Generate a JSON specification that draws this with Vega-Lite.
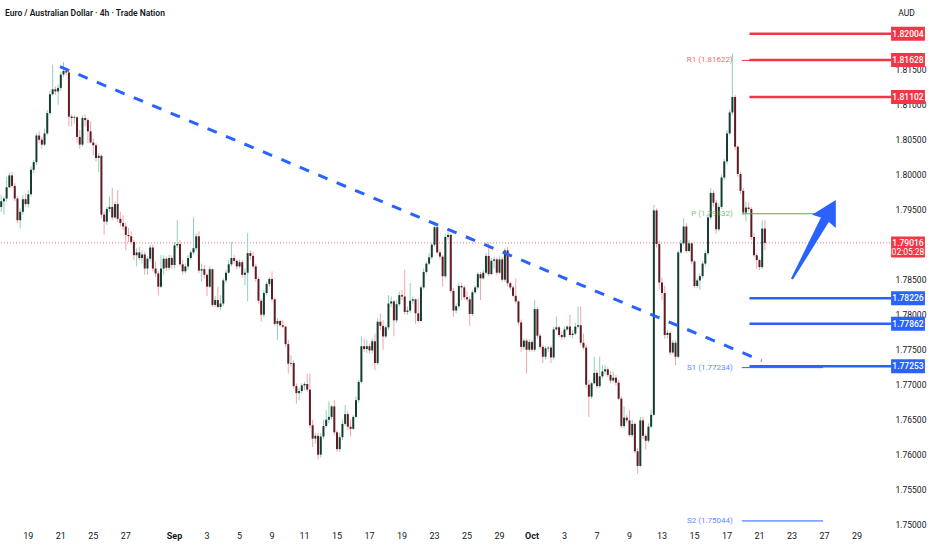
{
  "$schema": "https://vega.github.io/schema/vega-lite/v6.json",
  "width": 890,
  "height": 528,
  "autosize": {"type": "none"},
  "padding": {"left": 0, "top": 0, "right": 42, "bottom": 22},
  "background": "#ffffff",
  "config": {
    "view": {"stroke": null},
    "font": "Roboto",
    "axis": {"labelBound": false},
    "scale": {"continuousPadding": 0}
  },
  "title": {
    "text": "Euro / Australian Dollar · 4h · Trade Nation",
    "anchor": "start",
    "frame": "group",
    "offset": -17,
    "dx": 5,
    "fontSize": 8.5,
    "fontWeight": 600,
    "color": "#131722"
  },
  "datasets": {
    "candles": [
      {"i":-10,"o":1.7953,"h":1.7970,"l":1.7946,"c":1.7961},
      {"i":-9,"o":1.7961,"h":1.7968,"l":1.7942,"c":1.7965},
      {"i":-8,"o":1.7965,"h":1.7996,"l":1.7961,"c":1.7981},
      {"i":-7,"o":1.7981,"h":1.8002,"l":1.7980,"c":1.7998},
      {"i":-6,"o":1.7998,"h":1.8003,"l":1.7980,"c":1.7983},
      {"i":-5,"o":1.7983,"h":1.7987,"l":1.7961,"c":1.7965},
      {"i":-4,"o":1.7965,"h":1.7968,"l":1.7930,"c":1.7934},
      {"i":-3,"o":1.7934,"h":1.7951,"l":1.7922,"c":1.7946},
      {"i":-2,"o":1.7946,"h":1.7970,"l":1.7942,"c":1.7964},
      {"i":-1,"o":1.7964,"h":1.7972,"l":1.7953,"c":1.7957},
      {"i":0,"o":1.7957,"h":1.7977,"l":1.7952,"c":1.7971},
      {"i":1,"o":1.7971,"h":1.8011,"l":1.7968,"c":1.8006},
      {"i":2,"o":1.8006,"h":1.8020,"l":1.8001,"c":1.8017},
      {"i":3,"o":1.8017,"h":1.8058,"l":1.8013,"c":1.8055},
      {"i":4,"o":1.8055,"h":1.8061,"l":1.8045,"c":1.8049},
      {"i":5,"o":1.8049,"h":1.8053,"l":1.8036,"c":1.8042},
      {"i":6,"o":1.8042,"h":1.8065,"l":1.8040,"c":1.8058},
      {"i":7,"o":1.8058,"h":1.8091,"l":1.8056,"c":1.8087},
      {"i":8,"o":1.8087,"h":1.8119,"l":1.8084,"c":1.8114},
      {"i":9,"o":1.8114,"h":1.8156,"l":1.8112,"c":1.8121},
      {"i":10,"o":1.8121,"h":1.8125,"l":1.8113,"c":1.8118},
      {"i":11,"o":1.8118,"h":1.8128,"l":1.8099,"c":1.8123},
      {"i":12,"o":1.8123,"h":1.8146,"l":1.8119,"c":1.8142},
      {"i":13,"o":1.8142,"h":1.8160,"l":1.8139,"c":1.8147},
      {"i":14,"o":1.8147,"h":1.8152,"l":1.8141,"c":1.8145},
      {"i":15,"o":1.8145,"h":1.8146,"l":1.8068,"c":1.8082},
      {"i":16,"o":1.8082,"h":1.8085,"l":1.8068,"c":1.8080},
      {"i":17,"o":1.8080,"h":1.8084,"l":1.8072,"c":1.8081},
      {"i":18,"o":1.8081,"h":1.8083,"l":1.8045,"c":1.8053},
      {"i":19,"o":1.8053,"h":1.8063,"l":1.8036,"c":1.8042},
      {"i":20,"o":1.8042,"h":1.8084,"l":1.8039,"c":1.8080},
      {"i":21,"o":1.8080,"h":1.8085,"l":1.8068,"c":1.8077},
      {"i":22,"o":1.8077,"h":1.8080,"l":1.8044,"c":1.8061},
      {"i":23,"o":1.8061,"h":1.8075,"l":1.8044,"c":1.8045},
      {"i":24,"o":1.8045,"h":1.8051,"l":1.8027,"c":1.8041},
      {"i":25,"o":1.8041,"h":1.8044,"l":1.8018,"c":1.8023},
      {"i":26,"o":1.8023,"h":1.8030,"l":1.8003,"c":1.8026},
      {"i":27,"o":1.8026,"h":1.8028,"l":1.7937,"c":1.7942},
      {"i":28,"o":1.7942,"h":1.7946,"l":1.7913,"c":1.7932},
      {"i":29,"o":1.7932,"h":1.7953,"l":1.7927,"c":1.7950},
      {"i":30,"o":1.7950,"h":1.7968,"l":1.7946,"c":1.7953},
      {"i":31,"o":1.7953,"h":1.7980,"l":1.7934,"c":1.7938},
      {"i":32,"o":1.7938,"h":1.7961,"l":1.7936,"c":1.7957},
      {"i":33,"o":1.7957,"h":1.7977,"l":1.7932,"c":1.7936},
      {"i":34,"o":1.7936,"h":1.7946,"l":1.7925,"c":1.7930},
      {"i":35,"o":1.7930,"h":1.7941,"l":1.7920,"c":1.7925},
      {"i":36,"o":1.7925,"h":1.7930,"l":1.7891,"c":1.7913},
      {"i":37,"o":1.7913,"h":1.7923,"l":1.7903,"c":1.7911},
      {"i":38,"o":1.7911,"h":1.7918,"l":1.7899,"c":1.7903},
      {"i":39,"o":1.7903,"h":1.7906,"l":1.7877,"c":1.7884},
      {"i":40,"o":1.7884,"h":1.7894,"l":1.7868,"c":1.7888},
      {"i":41,"o":1.7888,"h":1.7896,"l":1.7877,"c":1.7880},
      {"i":42,"o":1.7880,"h":1.7891,"l":1.7872,"c":1.7885},
      {"i":43,"o":1.7885,"h":1.7889,"l":1.7856,"c":1.7865},
      {"i":44,"o":1.7865,"h":1.7882,"l":1.7856,"c":1.7879},
      {"i":45,"o":1.7879,"h":1.7899,"l":1.7875,"c":1.7895},
      {"i":46,"o":1.7895,"h":1.7899,"l":1.7861,"c":1.7865},
      {"i":47,"o":1.7865,"h":1.7875,"l":1.7853,"c":1.7858},
      {"i":48,"o":1.7858,"h":1.7861,"l":1.7827,"c":1.7839},
      {"i":49,"o":1.7839,"h":1.7884,"l":1.7837,"c":1.7865},
      {"i":50,"o":1.7865,"h":1.7884,"l":1.7856,"c":1.7879},
      {"i":51,"o":1.7879,"h":1.7882,"l":1.7861,"c":1.7866},
      {"i":52,"o":1.7866,"h":1.7885,"l":1.7863,"c":1.7880},
      {"i":53,"o":1.7880,"h":1.7884,"l":1.7865,"c":1.7870},
      {"i":54,"o":1.7870,"h":1.7903,"l":1.7865,"c":1.7898},
      {"i":55,"o":1.7898,"h":1.7934,"l":1.7894,"c":1.7900},
      {"i":56,"o":1.7900,"h":1.7906,"l":1.7868,"c":1.7871},
      {"i":57,"o":1.7871,"h":1.7877,"l":1.7856,"c":1.7861},
      {"i":58,"o":1.7861,"h":1.7872,"l":1.7858,"c":1.7868},
      {"i":59,"o":1.7868,"h":1.7884,"l":1.7863,"c":1.7880},
      {"i":60,"o":1.7880,"h":1.7891,"l":1.7877,"c":1.7888},
      {"i":61,"o":1.7888,"h":1.7938,"l":1.7885,"c":1.7894},
      {"i":62,"o":1.7894,"h":1.7915,"l":1.7890,"c":1.7911},
      {"i":63,"o":1.7911,"h":1.7918,"l":1.7858,"c":1.7862},
      {"i":64,"o":1.7862,"h":1.7872,"l":1.7846,"c":1.7864},
      {"i":65,"o":1.7864,"h":1.7870,"l":1.7851,"c":1.7856},
      {"i":66,"o":1.7856,"h":1.7858,"l":1.7826,"c":1.7839},
      {"i":67,"o":1.7839,"h":1.7868,"l":1.7837,"c":1.7864},
      {"i":68,"o":1.7864,"h":1.7865,"l":1.7810,"c":1.7813},
      {"i":69,"o":1.7813,"h":1.7826,"l":1.7810,"c":1.7820},
      {"i":70,"o":1.7820,"h":1.7839,"l":1.7808,"c":1.7810},
      {"i":71,"o":1.7810,"h":1.7827,"l":1.7806,"c":1.7815},
      {"i":72,"o":1.7815,"h":1.7851,"l":1.7811,"c":1.7848},
      {"i":73,"o":1.7848,"h":1.7863,"l":1.7844,"c":1.7859},
      {"i":74,"o":1.7859,"h":1.7877,"l":1.7857,"c":1.7871},
      {"i":75,"o":1.7871,"h":1.7903,"l":1.7868,"c":1.7880},
      {"i":76,"o":1.7880,"h":1.7884,"l":1.7872,"c":1.7876},
      {"i":77,"o":1.7876,"h":1.7878,"l":1.7864,"c":1.7868},
      {"i":78,"o":1.7868,"h":1.7878,"l":1.7865,"c":1.7874},
      {"i":79,"o":1.7874,"h":1.7877,"l":1.7852,"c":1.7856},
      {"i":80,"o":1.7856,"h":1.7865,"l":1.7841,"c":1.7859},
      {"i":81,"o":1.7859,"h":1.7916,"l":1.7818,"c":1.7887},
      {"i":82,"o":1.7887,"h":1.7891,"l":1.7877,"c":1.7883},
      {"i":83,"o":1.7883,"h":1.7889,"l":1.7865,"c":1.7868},
      {"i":84,"o":1.7868,"h":1.7872,"l":1.7846,"c":1.7850},
      {"i":85,"o":1.7850,"h":1.7853,"l":1.7815,"c":1.7819},
      {"i":86,"o":1.7819,"h":1.7822,"l":1.7789,"c":1.7799},
      {"i":87,"o":1.7799,"h":1.7834,"l":1.7795,"c":1.7830},
      {"i":88,"o":1.7830,"h":1.7846,"l":1.7827,"c":1.7843},
      {"i":89,"o":1.7843,"h":1.7853,"l":1.7839,"c":1.7850},
      {"i":90,"o":1.7850,"h":1.7861,"l":1.7818,"c":1.7821},
      {"i":91,"o":1.7821,"h":1.7824,"l":1.7783,"c":1.7786},
      {"i":92,"o":1.7786,"h":1.7794,"l":1.7763,"c":1.7790},
      {"i":93,"o":1.7790,"h":1.7792,"l":1.7782,"c":1.7784},
      {"i":94,"o":1.7784,"h":1.7791,"l":1.7780,"c":1.7782},
      {"i":95,"o":1.7782,"h":1.7783,"l":1.7753,"c":1.7757},
      {"i":96,"o":1.7757,"h":1.7763,"l":1.7715,"c":1.7729},
      {"i":97,"o":1.7729,"h":1.7741,"l":1.7725,"c":1.7730},
      {"i":98,"o":1.7730,"h":1.7734,"l":1.7694,"c":1.7697},
      {"i":99,"o":1.7697,"h":1.7701,"l":1.7672,"c":1.7687},
      {"i":100,"o":1.7687,"h":1.7694,"l":1.7677,"c":1.7690},
      {"i":101,"o":1.7690,"h":1.7701,"l":1.7687,"c":1.7698},
      {"i":102,"o":1.7698,"h":1.7703,"l":1.7691,"c":1.7700},
      {"i":103,"o":1.7700,"h":1.7715,"l":1.7689,"c":1.7692},
      {"i":104,"o":1.7692,"h":1.7715,"l":1.7637,"c":1.7641},
      {"i":105,"o":1.7641,"h":1.7649,"l":1.7610,"c":1.7622},
      {"i":106,"o":1.7622,"h":1.7630,"l":1.7615,"c":1.7626},
      {"i":107,"o":1.7626,"h":1.7630,"l":1.7592,"c":1.7599},
      {"i":108,"o":1.7599,"h":1.7630,"l":1.7595,"c":1.7625},
      {"i":109,"o":1.7625,"h":1.7649,"l":1.7621,"c":1.7640},
      {"i":110,"o":1.7640,"h":1.7663,"l":1.7637,"c":1.7649},
      {"i":111,"o":1.7649,"h":1.7675,"l":1.7644,"c":1.7653},
      {"i":112,"o":1.7653,"h":1.7670,"l":1.7649,"c":1.7668},
      {"i":113,"o":1.7668,"h":1.7677,"l":1.7627,"c":1.7631},
      {"i":114,"o":1.7631,"h":1.7634,"l":1.7603,"c":1.7607},
      {"i":115,"o":1.7607,"h":1.7630,"l":1.7603,"c":1.7624},
      {"i":116,"o":1.7624,"h":1.7649,"l":1.7620,"c":1.7643},
      {"i":117,"o":1.7643,"h":1.7670,"l":1.7640,"c":1.7657},
      {"i":118,"o":1.7657,"h":1.7661,"l":1.7634,"c":1.7639},
      {"i":119,"o":1.7639,"h":1.7649,"l":1.7625,"c":1.7636},
      {"i":120,"o":1.7636,"h":1.7656,"l":1.7634,"c":1.7653},
      {"i":121,"o":1.7653,"h":1.7682,"l":1.7651,"c":1.7677},
      {"i":122,"o":1.7677,"h":1.7706,"l":1.7673,"c":1.7703},
      {"i":123,"o":1.7703,"h":1.7768,"l":1.7701,"c":1.7754},
      {"i":124,"o":1.7754,"h":1.7765,"l":1.7746,"c":1.7750},
      {"i":125,"o":1.7750,"h":1.7763,"l":1.7744,"c":1.7754},
      {"i":126,"o":1.7754,"h":1.7758,"l":1.7743,"c":1.7748},
      {"i":127,"o":1.7748,"h":1.7765,"l":1.7744,"c":1.7761},
      {"i":128,"o":1.7761,"h":1.7772,"l":1.7720,"c":1.7730},
      {"i":129,"o":1.7730,"h":1.7794,"l":1.7727,"c":1.7789},
      {"i":130,"o":1.7789,"h":1.7801,"l":1.7777,"c":1.7783},
      {"i":131,"o":1.7783,"h":1.7791,"l":1.7749,"c":1.7768},
      {"i":132,"o":1.7768,"h":1.7784,"l":1.7765,"c":1.7781},
      {"i":133,"o":1.7781,"h":1.7827,"l":1.7777,"c":1.7815},
      {"i":134,"o":1.7815,"h":1.7825,"l":1.7810,"c":1.7818},
      {"i":135,"o":1.7818,"h":1.7820,"l":1.7768,"c":1.7791},
      {"i":136,"o":1.7791,"h":1.7820,"l":1.7787,"c":1.7814},
      {"i":137,"o":1.7814,"h":1.7832,"l":1.7811,"c":1.7827},
      {"i":138,"o":1.7827,"h":1.7834,"l":1.7820,"c":1.7825},
      {"i":139,"o":1.7825,"h":1.7863,"l":1.7799,"c":1.7803},
      {"i":140,"o":1.7803,"h":1.7811,"l":1.7799,"c":1.7805},
      {"i":141,"o":1.7805,"h":1.7844,"l":1.7802,"c":1.7819},
      {"i":142,"o":1.7819,"h":1.7825,"l":1.7814,"c":1.7821},
      {"i":143,"o":1.7821,"h":1.7822,"l":1.7786,"c":1.7801},
      {"i":144,"o":1.7801,"h":1.7822,"l":1.7788,"c":1.7790},
      {"i":145,"o":1.7790,"h":1.7841,"l":1.7789,"c":1.7838},
      {"i":146,"o":1.7838,"h":1.7865,"l":1.7835,"c":1.7860},
      {"i":147,"o":1.7860,"h":1.7875,"l":1.7858,"c":1.7872},
      {"i":148,"o":1.7872,"h":1.7887,"l":1.7870,"c":1.7881},
      {"i":149,"o":1.7881,"h":1.7902,"l":1.7878,"c":1.7899},
      {"i":150,"o":1.7899,"h":1.7932,"l":1.7896,"c":1.7924},
      {"i":151,"o":1.7924,"h":1.7926,"l":1.7886,"c":1.7888},
      {"i":152,"o":1.7888,"h":1.7892,"l":1.7878,"c":1.7882},
      {"i":153,"o":1.7882,"h":1.7884,"l":1.7839,"c":1.7854},
      {"i":154,"o":1.7854,"h":1.7915,"l":1.7851,"c":1.7910},
      {"i":155,"o":1.7910,"h":1.7918,"l":1.7906,"c":1.7913},
      {"i":156,"o":1.7913,"h":1.7915,"l":1.7830,"c":1.7833},
      {"i":157,"o":1.7833,"h":1.7837,"l":1.7796,"c":1.7805},
      {"i":158,"o":1.7805,"h":1.7815,"l":1.7801,"c":1.7811},
      {"i":159,"o":1.7811,"h":1.7845,"l":1.7808,"c":1.7840},
      {"i":160,"o":1.7840,"h":1.7844,"l":1.7820,"c":1.7838},
      {"i":161,"o":1.7838,"h":1.7841,"l":1.7820,"c":1.7824},
      {"i":162,"o":1.7824,"h":1.7832,"l":1.7818,"c":1.7821},
      {"i":163,"o":1.7821,"h":1.7825,"l":1.7783,"c":1.7800},
      {"i":164,"o":1.7800,"h":1.7834,"l":1.7797,"c":1.7831},
      {"i":165,"o":1.7831,"h":1.7841,"l":1.7829,"c":1.7838},
      {"i":166,"o":1.7838,"h":1.7860,"l":1.7835,"c":1.7857},
      {"i":167,"o":1.7857,"h":1.7860,"l":1.7820,"c":1.7851},
      {"i":168,"o":1.7851,"h":1.7863,"l":1.7849,"c":1.7859},
      {"i":169,"o":1.7859,"h":1.7887,"l":1.7857,"c":1.7883},
      {"i":170,"o":1.7883,"h":1.7902,"l":1.7854,"c":1.7857},
      {"i":171,"o":1.7857,"h":1.7880,"l":1.7856,"c":1.7876},
      {"i":172,"o":1.7876,"h":1.7882,"l":1.7865,"c":1.7878},
      {"i":173,"o":1.7878,"h":1.7881,"l":1.7856,"c":1.7859},
      {"i":174,"o":1.7859,"h":1.7882,"l":1.7857,"c":1.7878},
      {"i":175,"o":1.7878,"h":1.7881,"l":1.7846,"c":1.7849},
      {"i":176,"o":1.7849,"h":1.7894,"l":1.7846,"c":1.7891},
      {"i":177,"o":1.7891,"h":1.7896,"l":1.7839,"c":1.7844},
      {"i":178,"o":1.7844,"h":1.7846,"l":1.7834,"c":1.7838},
      {"i":179,"o":1.7838,"h":1.7840,"l":1.7824,"c":1.7826},
      {"i":180,"o":1.7826,"h":1.7851,"l":1.7815,"c":1.7818},
      {"i":181,"o":1.7818,"h":1.7820,"l":1.7784,"c":1.7788},
      {"i":182,"o":1.7788,"h":1.7792,"l":1.7746,"c":1.7753},
      {"i":183,"o":1.7753,"h":1.7765,"l":1.7749,"c":1.7762},
      {"i":184,"o":1.7762,"h":1.7765,"l":1.7715,"c":1.7749},
      {"i":185,"o":1.7749,"h":1.7764,"l":1.7746,"c":1.7760},
      {"i":186,"o":1.7760,"h":1.7763,"l":1.7746,"c":1.7749},
      {"i":187,"o":1.7749,"h":1.7820,"l":1.7746,"c":1.7807},
      {"i":188,"o":1.7807,"h":1.7810,"l":1.7765,"c":1.7769},
      {"i":189,"o":1.7769,"h":1.7772,"l":1.7749,"c":1.7753},
      {"i":190,"o":1.7753,"h":1.7756,"l":1.7730,"c":1.7739},
      {"i":191,"o":1.7739,"h":1.7754,"l":1.7735,"c":1.7751},
      {"i":192,"o":1.7751,"h":1.7754,"l":1.7746,"c":1.7752},
      {"i":193,"o":1.7752,"h":1.7755,"l":1.7730,"c":1.7738},
      {"i":194,"o":1.7738,"h":1.7782,"l":1.7735,"c":1.7778},
      {"i":195,"o":1.7778,"h":1.7796,"l":1.7776,"c":1.7781},
      {"i":196,"o":1.7781,"h":1.7783,"l":1.7767,"c":1.7770},
      {"i":197,"o":1.7770,"h":1.7775,"l":1.7763,"c":1.7767},
      {"i":198,"o":1.7767,"h":1.7782,"l":1.7764,"c":1.7778},
      {"i":199,"o":1.7778,"h":1.7784,"l":1.7776,"c":1.7782},
      {"i":200,"o":1.7782,"h":1.7799,"l":1.7767,"c":1.7770},
      {"i":201,"o":1.7770,"h":1.7777,"l":1.7765,"c":1.7772},
      {"i":202,"o":1.7772,"h":1.7787,"l":1.7770,"c":1.7782},
      {"i":203,"o":1.7782,"h":1.7811,"l":1.7779,"c":1.7784},
      {"i":204,"o":1.7784,"h":1.7811,"l":1.7756,"c":1.7759},
      {"i":205,"o":1.7759,"h":1.7772,"l":1.7749,"c":1.7752},
      {"i":206,"o":1.7752,"h":1.7756,"l":1.7694,"c":1.7699},
      {"i":207,"o":1.7699,"h":1.7706,"l":1.7653,"c":1.7682},
      {"i":208,"o":1.7682,"h":1.7703,"l":1.7679,"c":1.7701},
      {"i":209,"o":1.7701,"h":1.7739,"l":1.7699,"c":1.7716},
      {"i":210,"o":1.7716,"h":1.7720,"l":1.7694,"c":1.7697},
      {"i":211,"o":1.7697,"h":1.7739,"l":1.7695,"c":1.7711},
      {"i":212,"o":1.7711,"h":1.7727,"l":1.7708,"c":1.7718},
      {"i":213,"o":1.7718,"h":1.7727,"l":1.7714,"c":1.7721},
      {"i":214,"o":1.7721,"h":1.7724,"l":1.7710,"c":1.7713},
      {"i":215,"o":1.7713,"h":1.7718,"l":1.7701,"c":1.7705},
      {"i":216,"o":1.7705,"h":1.7718,"l":1.7702,"c":1.7709},
      {"i":217,"o":1.7709,"h":1.7713,"l":1.7698,"c":1.7702},
      {"i":218,"o":1.7702,"h":1.7706,"l":1.7677,"c":1.7679},
      {"i":219,"o":1.7679,"h":1.7682,"l":1.7637,"c":1.7640},
      {"i":220,"o":1.7640,"h":1.7668,"l":1.7637,"c":1.7652},
      {"i":221,"o":1.7652,"h":1.7656,"l":1.7644,"c":1.7648},
      {"i":222,"o":1.7648,"h":1.7663,"l":1.7625,"c":1.7627},
      {"i":223,"o":1.7627,"h":1.7649,"l":1.7624,"c":1.7643},
      {"i":224,"o":1.7643,"h":1.7645,"l":1.7601,"c":1.7604},
      {"i":225,"o":1.7604,"h":1.7608,"l":1.7572,"c":1.7583},
      {"i":226,"o":1.7583,"h":1.7653,"l":1.7581,"c":1.7648},
      {"i":227,"o":1.7648,"h":1.7653,"l":1.7622,"c":1.7626},
      {"i":228,"o":1.7626,"h":1.7629,"l":1.7606,"c":1.7619},
      {"i":229,"o":1.7619,"h":1.7644,"l":1.7616,"c":1.7639},
      {"i":230,"o":1.7639,"h":1.7663,"l":1.7637,"c":1.7656},
      {"i":231,"o":1.7656,"h":1.7956,"l":1.7654,"c":1.7948},
      {"i":232,"o":1.7948,"h":1.7951,"l":1.7895,"c":1.7900},
      {"i":233,"o":1.7900,"h":1.7905,"l":1.7835,"c":1.7845},
      {"i":234,"o":1.7845,"h":1.7852,"l":1.7820,"c":1.7830},
      {"i":235,"o":1.7830,"h":1.7840,"l":1.7765,"c":1.7770},
      {"i":236,"o":1.7770,"h":1.7777,"l":1.7765,"c":1.7773},
      {"i":237,"o":1.7773,"h":1.7775,"l":1.7741,"c":1.7745},
      {"i":238,"o":1.7745,"h":1.7763,"l":1.7743,"c":1.7759},
      {"i":239,"o":1.7759,"h":1.7763,"l":1.7727,"c":1.7739},
      {"i":240,"o":1.7739,"h":1.7891,"l":1.7737,"c":1.7888},
      {"i":241,"o":1.7888,"h":1.7906,"l":1.7886,"c":1.7901},
      {"i":242,"o":1.7901,"h":1.7937,"l":1.7898,"c":1.7925},
      {"i":243,"o":1.7925,"h":1.7930,"l":1.7887,"c":1.7890},
      {"i":244,"o":1.7890,"h":1.7906,"l":1.7888,"c":1.7901},
      {"i":245,"o":1.7901,"h":1.7903,"l":1.7871,"c":1.7875},
      {"i":246,"o":1.7875,"h":1.7877,"l":1.7837,"c":1.7840},
      {"i":247,"o":1.7840,"h":1.7851,"l":1.7837,"c":1.7848},
      {"i":248,"o":1.7848,"h":1.7858,"l":1.7834,"c":1.7854},
      {"i":249,"o":1.7854,"h":1.7876,"l":1.7851,"c":1.7872},
      {"i":250,"o":1.7872,"h":1.7891,"l":1.7869,"c":1.7887},
      {"i":251,"o":1.7887,"h":1.7944,"l":1.7884,"c":1.7938},
      {"i":252,"o":1.7938,"h":1.7980,"l":1.7935,"c":1.7973},
      {"i":253,"o":1.7973,"h":1.7977,"l":1.7953,"c":1.7959},
      {"i":254,"o":1.7959,"h":1.7963,"l":1.7915,"c":1.7921},
      {"i":255,"o":1.7921,"h":1.7958,"l":1.7918,"c":1.7953},
      {"i":256,"o":1.7953,"h":1.7999,"l":1.7950,"c":1.7995},
      {"i":257,"o":1.7995,"h":1.8022,"l":1.7991,"c":1.8018},
      {"i":258,"o":1.8018,"h":1.8063,"l":1.8014,"c":1.8058},
      {"i":259,"o":1.8058,"h":1.8092,"l":1.8056,"c":1.8088},
      {"i":260,"o":1.8088,"h":1.8172,"l":1.8084,"c":1.8110},
      {"i":261,"o":1.8110,"h":1.8113,"l":1.8034,"c":1.8039},
      {"i":262,"o":1.8039,"h":1.8041,"l":1.7996,"c":1.8000},
      {"i":263,"o":1.8000,"h":1.8003,"l":1.7972,"c":1.7976},
      {"i":264,"o":1.7976,"h":1.7980,"l":1.7941,"c":1.7945},
      {"i":265,"o":1.7945,"h":1.7960,"l":1.7932,"c":1.7952},
      {"i":266,"o":1.7952,"h":1.7959,"l":1.7946,"c":1.7950},
      {"i":267,"o":1.7950,"h":1.7953,"l":1.7906,"c":1.7910},
      {"i":268,"o":1.7910,"h":1.7915,"l":1.7881,"c":1.7884},
      {"i":269,"o":1.7884,"h":1.7887,"l":1.7865,"c":1.7877},
      {"i":270,"o":1.7877,"h":1.7879,"l":1.7863,"c":1.7867},
      {"i":271,"o":1.7867,"h":1.7934,"l":1.7864,"c":1.7922},
      {"i":272,"o":1.7922,"h":1.7934,"l":1.7891,"c":1.79016}
    ],
    "levels": [
      {"p": 1.82004, "kind": "res"},
      {"p": 1.81628, "kind": "res"},
      {"p": 1.81102, "kind": "res"},
      {"p": 1.78226, "kind": "sup"},
      {"p": 1.77862, "kind": "sup"},
      {"p": 1.77253, "kind": "sup"}
    ],
    "pivots": [
      {"name": "R1", "p": 1.81622, "label": "R1 (1.81622)"},
      {"name": "P", "p": 1.79432, "label": "P (1.79432)"},
      {"name": "S1", "p": 1.77234, "label": "S1 (1.77234)"},
      {"name": "S2", "p": 1.75044, "label": "S2 (1.75044)"}
    ],
    "trend": [
      {"i": 11.7, "p": 1.81533},
      {"i": 270.8, "p": 1.77333}
    ],
    "arrow": [
      {"i": 290.1, "p": 1.79064}
    ],
    "last": [
      {"p": 1.79016, "time": "02:05:28"}
    ],
    "days": [
      {"i": 0, "day": "19"}, {"i": 12, "day": "21"}, {"i": 24, "day": "25"}, {"i": 36, "day": "27"},
      {"i": 66, "day": "3"}, {"i": 78, "day": "5"}, {"i": 90, "day": "9"},
      {"i": 102, "day": "11"}, {"i": 114, "day": "15"}, {"i": 126, "day": "17"}, {"i": 138, "day": "19"},
      {"i": 150, "day": "23"}, {"i": 162, "day": "25"}, {"i": 174, "day": "29"},
      {"i": 198, "day": "3"}, {"i": 210, "day": "7"}, {"i": 222, "day": "9"}, {"i": 234, "day": "13"},
      {"i": 246, "day": "15"}, {"i": 258, "day": "17"}, {"i": 270, "day": "21"}, {"i": 282, "day": "23"},
      {"i": 294, "day": "27"}, {"i": 306, "day": "29"}
    ],
    "months": [
      {"i": 54, "day": "Sep"}, {"i": 186, "day": "Oct"}
    ]
  },
  "layer": [
    {
      "data": {"name": "last"},
      "mark": {"type": "rule", "color": "#f23645", "strokeWidth": 1, "strokeDash": [1, 2], "opacity": 0.7},
      "encoding": {
        "y": {
          "field": "p",
          "type": "quantitative",
          "scale": {"domain": [1.74943, 1.82486], "nice": false, "zero": false, "padding": 0},
          "axis": {
            "orient": "right",
            "title": "AUD",
            "titleAngle": 0,
            "titleX": 16,
            "titleY": 12,
            "titleAlign": "center",
            "titleBaseline": "middle",
            "titleFontSize": 8.5,
            "titleFontWeight": "normal",
            "titleColor": "#131722",
            "grid": false,
            "ticks": false,
            "domain": false,
            "labelFontSize": 8.5,
            "labelColor": "#131722",
            "labelPadding": 5,
            "format": ".5f",
            "values": [1.75, 1.755, 1.76, 1.765, 1.77, 1.775, 1.78, 1.785, 1.795, 1.8, 1.805, 1.81, 1.815]
          }
        }
      }
    },
    {
      "data": {"name": "candles"},
      "mark": {"type": "rule", "strokeWidth": 1},
      "encoding": {
        "x": {
          "field": "i",
          "type": "quantitative",
          "scale": {"domain": [-10.45, 318.2], "nice": false, "zero": false, "padding": 0},
          "axis": null
        },
        "y": {"field": "l", "type": "quantitative"},
        "y2": {"field": "h"},
        "color": {"condition": {"test": "datum.c >= datum.o", "value": "#8ed1bb"}, "value": "#f2a5ab"}
      }
    },
    {
      "data": {"name": "candles"},
      "mark": {"type": "bar", "width": 2},
      "encoding": {
        "x": {"field": "i", "type": "quantitative", "axis": null},
        "y": {"field": "o", "type": "quantitative"},
        "y2": {"field": "c"},
        "color": {"condition": {"test": "datum.c >= datum.o", "value": "#173d30"}, "value": "#5e1c24"}
      }
    },
    {
      "data": {"name": "days"},
      "mark": {"type": "text", "baseline": "top", "align": "center", "fontSize": 9, "color": "#131722", "dy": 4},
      "encoding": {
        "x": {"field": "i", "type": "quantitative", "axis": null},
        "y": {"datum": 1.74943, "type": "quantitative"},
        "text": {"field": "day"}
      }
    },
    {
      "data": {"name": "months"},
      "mark": {"type": "text", "baseline": "top", "align": "center", "fontSize": 9, "fontWeight": "bold", "color": "#131722", "dy": 4},
      "encoding": {
        "x": {"field": "i", "type": "quantitative", "axis": null},
        "y": {"datum": 1.74943, "type": "quantitative"},
        "text": {"field": "day"}
      }
    },
    {
      "data": {"name": "pivots"},
      "mark": {"type": "rule", "strokeWidth": 1},
      "encoding": {
        "x": {"datum": 263.5, "type": "quantitative"},
        "x2": {"datum": 293.5},
        "y": {"field": "p", "type": "quantitative"},
        "color": {
          "condition": [
            {"test": "datum.name == 'R1'", "value": "#f23645"},
            {"test": "datum.name == 'P'", "value": "#4caf50"}
          ],
          "value": "#2962ff"
        }
      }
    },
    {
      "data": {"name": "pivots"},
      "mark": {"type": "text", "align": "right", "baseline": "middle", "dx": -9, "fontSize": 8, "opacity": 0.75},
      "encoding": {
        "x": {"datum": 263.5, "type": "quantitative"},
        "y": {"field": "p", "type": "quantitative"},
        "text": {"field": "label"},
        "color": {
          "condition": [
            {"test": "datum.name == 'R1'", "value": "#f23645"},
            {"test": "datum.name == 'P'", "value": "#4caf50"}
          ],
          "value": "#2962ff"
        }
      }
    },
    {
      "data": {"name": "trend"},
      "mark": {"type": "line", "color": "#2962ff", "strokeWidth": 3, "strokeDash": [10, 10]},
      "encoding": {
        "x": {"field": "i", "type": "quantitative"},
        "y": {"field": "p", "type": "quantitative"}
      }
    },
    {
      "data": {"name": "levels"},
      "mark": {"type": "rule", "strokeWidth": 2.5},
      "encoding": {
        "x": {"datum": 266.3, "type": "quantitative"},
        "x2": {"datum": 318.6},
        "y": {"field": "p", "type": "quantitative"},
        "color": {"condition": {"test": "datum.kind == 'res'", "value": "#f23645"}, "value": "#2962ff"}
      }
    },
    {
      "data": {"name": "arrow"},
      "mark": {
        "type": "point",
        "shape": "M0,-1L0.3,-0.46L0.1,-0.5L0.025,1L-0.025,1L-0.1,-0.5L-0.3,-0.46Z",
        "filled": true,
        "size": 8172,
        "angle": 29,
        "color": "#2962ff",
        "opacity": 1,
        "strokeWidth": 0
      },
      "encoding": {
        "x": {"field": "i", "type": "quantitative"},
        "y": {"field": "p", "type": "quantitative"}
      }
    },
    {
      "data": {"name": "levels"},
      "mark": {"type": "bar", "height": 14},
      "encoding": {
        "x": {"datum": 318.6, "type": "quantitative"},
        "x2": {"datum": 331.1},
        "y": {"field": "p", "type": "quantitative"},
        "color": {"condition": {"test": "datum.kind == 'res'", "value": "#f23645"}, "value": "#2962ff"}
      }
    },
    {
      "data": {"name": "levels"},
      "mark": {"type": "text", "color": "#ffffff", "fontSize": 8.5, "fontWeight": 500, "align": "center", "baseline": "middle"},
      "encoding": {
        "x": {"datum": 324.85, "type": "quantitative"},
        "y": {"field": "p", "type": "quantitative"},
        "text": {"field": "p", "format": ".5f"}
      }
    },
    {
      "data": {"name": "last"},
      "mark": {"type": "bar", "height": 21, "yOffset": 4, "color": "#f23645"},
      "encoding": {
        "x": {"datum": 318.6, "type": "quantitative"},
        "x2": {"datum": 331.1},
        "y": {"field": "p", "type": "quantitative"}
      }
    },
    {
      "data": {"name": "last"},
      "mark": {"type": "text", "color": "#ffffff", "fontSize": 8.5, "fontWeight": 500, "align": "center", "baseline": "middle"},
      "encoding": {
        "x": {"datum": 324.85, "type": "quantitative"},
        "y": {"field": "p", "type": "quantitative"},
        "text": {"field": "p", "format": ".5f"}
      }
    },
    {
      "data": {"name": "last"},
      "mark": {"type": "text", "color": "#ffffff", "fontSize": 8.5, "align": "center", "baseline": "middle", "dy": 9.5},
      "encoding": {
        "x": {"datum": 324.85, "type": "quantitative"},
        "y": {"field": "p", "type": "quantitative"},
        "text": {"field": "time"}
      }
    }
  ]
}
